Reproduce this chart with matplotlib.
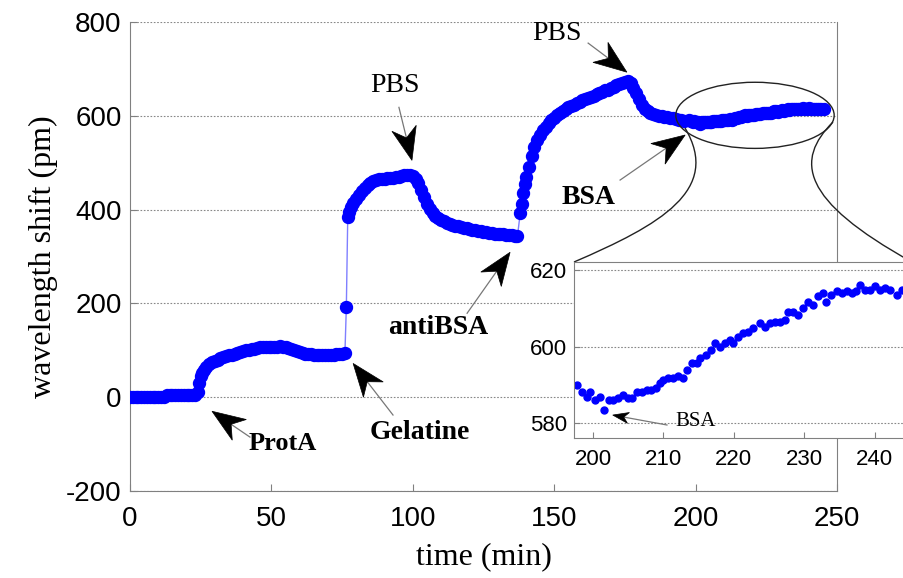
import numpy as np
import matplotlib
matplotlib.use("Agg")
import matplotlib.pyplot as plt
from matplotlib.patches import Polygon, Ellipse, PathPatch
from matplotlib.lines import Line2D
from matplotlib.path import Path

plt.rcParams["axes.unicode_minus"] = False

# ---- data ----
# baseline, ProtA binding
time_a = [0, 1, 2, 3, 4, 5, 6, 7, 8, 9, 10, 11, 12,
          13, 14, 15, 16, 17, 18, 19, 20, 21, 22, 23,
          24, 24.5, 25, 25.5,
          26, 27, 28, 29, 30, 31, 32, 33, 34, 35,
          36, 37, 38, 39, 40, 41, 42, 43, 44, 45,
          46, 47, 48, 49, 50, 51, 52, 53, 54, 55,
          56, 57, 58, 59, 60, 61, 62, 63, 64, 65,
          66, 67, 68, 69, 70, 71, 72, 73, 74, 75, 76, 76.5]
shift_a = [0, 0, 1, 0, 0, 0, 1, 0, 0, 0, 0, 1, 0,
           4, 4, 5, 4, 4, 5, 4, 4, 5, 4, 5,
           12, 30, 45, 52,
           58, 65, 70, 74, 78, 80, 83, 85, 88, 90,
           91, 93, 95, 96, 98, 100, 101, 102, 103, 105,
           106, 107, 107, 106, 106, 107, 108, 109, 108, 106,
           104, 102, 100, 98, 96, 95, 93, 92, 92, 91,
           90, 90, 90, 91, 91, 90, 91, 92, 92, 93, 94, 192]

# gelatine, PBS, antiBSA
time_b = [77, 77.5,
          78, 79, 80, 81, 82, 83, 84, 85, 86, 87,
          88, 89, 90, 91, 92, 93, 94, 95, 96, 97,
          98, 99, 100, 101, 102, 103, 104, 105, 106, 107,
          108, 109, 110, 111, 112, 113, 114, 115, 116, 117,
          118, 119, 120, 121, 122, 123, 124, 125, 126, 127,
          128, 129, 130, 131, 132, 133, 134, 135, 136, 137]
shift_b = [385, 395,
           405, 415, 423, 431, 440, 446, 452, 457, 461, 463,
           465, 466, 466, 467, 468, 468, 469, 470, 471, 473,
           474, 474, 472, 466, 456, 442, 426, 412, 401, 393,
           387, 382, 378, 375, 372, 370, 368, 366, 364, 362,
           361, 360, 359, 357, 356, 355, 354, 353, 352, 351,
           350, 349, 348, 347, 347, 346, 345, 345, 344, 343]

# antiBSA binding, PBS, BSA
time_c = [138, 138.5, 139, 139.5,
          140, 141, 142, 143, 144, 145, 146, 147, 148, 149,
          150, 151, 152, 153, 154, 155, 156, 157, 158, 159,
          160, 161, 162, 163, 164, 165, 166, 167, 168, 169,
          170, 171, 172, 173, 174, 175, 176, 177, 178, 179,
          180, 181, 182, 183, 184, 185, 186, 187, 188, 189,
          190, 191, 192, 193, 194, 195, 196]
shift_c = [393, 412, 435, 455,
           470, 491, 515, 533, 548, 559, 569, 577, 584, 591,
           596, 601, 606, 610, 614, 618, 621, 624, 627, 630,
           633, 636, 638, 641, 643, 646, 648, 651, 654, 656,
           659, 662, 665, 667, 670, 672, 674, 670, 660, 648,
           635, 623, 615, 610, 606, 603, 601, 600, 599, 598,
           597, 596, 595, 593, 591, 590, 589]

# BSA region (shown in the inset)
time_z = [197.7, 198.4, 199.1, 199.6, 200.3, 201.0, 201.5, 202.2, 202.9, 203.6,
          204.3, 205.0, 205.5, 206.2, 206.9, 207.6, 208.3, 209.0, 209.5, 210.0,
          210.7, 211.4, 212.1, 212.8, 213.3, 214.0, 214.7, 215.2, 216.1, 216.8,
          217.3, 218.0, 218.7, 219.4, 219.9, 220.6, 221.3, 222.0, 222.7, 223.7,
          224.4, 225.1, 225.8, 226.5, 227.2, 227.7, 228.4, 229.1, 229.8, 230.5,
          231.2, 231.9, 232.6, 233.1, 233.8, 234.6, 235.3, 236.0, 236.7, 237.4,
          237.9, 238.6, 239.3, 240.0, 240.7, 241.4, 242.1, 243.1, 243.8, 244.5,
          245.3]
shift_z = [590.1, 588.3, 587.0, 588.1, 586.1, 587.0, 583.4, 586.1, 586.1, 586.6,
           587.5, 586.6, 586.6, 588.3, 588.3, 588.8, 588.8, 589.2, 590.5, 591.4,
           591.8, 591.8, 592.4, 591.8, 594.0, 595.7, 595.7, 597.0, 597.9, 599.2,
           601.0, 600.1, 601.0, 601.8, 601.0, 602.7, 603.6, 604.0, 604.9, 606.2,
           605.3, 606.2, 606.6, 606.6, 607.1, 609.2, 609.2, 608.4, 610.1, 611.8,
           611.0, 613.2, 614.0, 611.8, 613.6, 614.5, 614.0, 614.5, 614.0, 614.5,
           616.2, 614.9, 614.9, 615.8, 614.9, 615.3, 614.9, 613.6, 614.9, 614.5,
           615.0]

t_all = time_a + time_b + time_c + time_z
s_all = shift_a + shift_b + shift_c + shift_z

blue = "#0000ff"
sans = "Liberation Sans"
serif = "Liberation Serif"

fig = plt.figure(figsize=(9.04, 5.78), dpi=100)
ax = fig.add_axes([130 / 904, 87 / 578, 707 / 904, 469 / 578])

ax.plot(t_all, s_all, "-", color="#7f7fff", lw=1.0, zorder=2)
ax.plot(t_all, s_all, "o", color=blue, ms=8.6, mec=blue, zorder=3)

ax.set_xlim(0, 250)
ax.set_ylim(-200, 800)
ax.set_xticks([0, 50, 100, 150, 200, 250])
ax.set_yticks([-200, 0, 200, 400, 600, 800])
ax.yaxis.grid(True, linestyle=(0, (1.5, 1.5)), color="#888888", lw=0.8)
ax.set_axisbelow(True)
for side in ["left", "bottom", "right"]:
    ax.spines[side].set_color("#808080")
ax.spines["top"].set_visible(False)
ax.tick_params(direction="in", length=5, color="#808080", labelsize=20, pad=6)
ax.tick_params(axis="x", pad=11)
for lab in ax.get_xticklabels() + ax.get_yticklabels():
    lab.set_fontfamily(sans)
ax.set_xlabel("time (min)", fontfamily=serif, fontsize=23, labelpad=7)
ax.set_ylabel("wavelength shift (pm)", fontfamily=serif, fontsize=23, labelpad=6)


def px(x, y):
    # figure pixel (from top-left) -> figure fraction
    return (x / 904, 1 - y / 578)


def dart(a, tail, tip, L=33, W=25):
    # thin gray shaft + black notched head, drawn in display space
    tr = a.transData
    p0 = tr.transform(tail)
    p1 = tr.transform(tip)
    d = p1 - p0
    u = d / np.hypot(*d)
    n = np.array([-u[1], u[0]])
    notch = p1 - u * 0.7 * L
    head = [p1, p1 - u * L + n * W / 2, notch, p1 - u * L - n * W / 2]
    inv = fig.transFigure.inverted()
    q = inv.transform(np.array([p0, notch]))
    fig.add_artist(Line2D(q[:, 0], q[:, 1], color="#777777", lw=0.9,
                          transform=fig.transFigure, zorder=5))
    fig.add_artist(Polygon(inv.transform(np.array(head)), closed=True,
                           fc="black", ec="black", lw=0.5,
                           transform=fig.transFigure, zorder=6))


# labels on the main plot
ax.text(54.1, -98, "ProtA", fontfamily=serif, fontweight="bold", fontsize=19,
        ha="center", va="center")
ax.text(102.5, -75, "Gelatine", fontfamily=serif, fontweight="bold", fontsize=20,
        ha="center", va="center")
ax.text(93.7, 665, "PBS", fontfamily=serif, fontsize=20, ha="center", va="center")
ax.text(108.9, 149, "antiBSA", fontfamily=serif, fontweight="bold", fontsize=20,
        ha="center", va="center")
ax.text(151, 776, "PBS", fontfamily=serif, fontsize=20, ha="center", va="center",
        clip_on=False)
ax.text(162, 426, "BSA", fontfamily=serif, fontweight="bold", fontsize=20,
        ha="center", va="center")

# zoom ellipse
ax.add_patch(Ellipse((221, 601), 56, 141, fill=False, ec="#222222", lw=1.0, zorder=4))

# connector curves (figure pixels)
for pts in ([(574, 262), (660, 225), (722, 190), (685, 128)],
            [(833, 122), (795, 160), (800, 200), (912, 262)]):
    verts = [px(*p) for p in pts]
    path = Path(verts, [Path.MOVETO, Path.CURVE4, Path.CURVE4, Path.CURVE4])
    fig.add_artist(PathPatch(path, fill=False, ec="#222222", lw=1.0,
                             transform=fig.transFigure, zorder=1))

# inset
axi = fig.add_axes([574 / 904, 140 / 578, 336 / 904, 176 / 578], zorder=3)
axi.plot(time_z, shift_z, "o", color=blue, ms=5, mec=blue)
axi.set_xlim(197.3, 245)
axi.set_ylim(576.2, 622.2)
axi.set_xticks([200, 210, 220, 230, 240])
axi.set_yticks([580, 600, 620])
axi.yaxis.grid(True, linestyle=(0, (1.5, 1.5)), color="#888888", lw=0.8)
axi.set_axisbelow(True)
for side in axi.spines:
    axi.spines[side].set_color("#808080")
axi.tick_params(direction="in", length=4, color="#808080", labelsize=16, pad=5)
axi.tick_params(axis="x", pad=8)
for lab in axi.get_xticklabels() + axi.get_yticklabels():
    lab.set_fontfamily(sans)
axi.text(214.6, 580.4, "BSA", fontfamily=serif, fontsize=15, ha="center", va="center")

# arrows
dart(ax, (42.4, -85), (29.0, -30))
dart(ax, (93.0, -38), (78.9, 72))
dart(ax, (95.1, 618), (99.7, 505))
dart(ax, (119.2, 179), (134.4, 309))
dart(ax, (162.0, 755), (175.7, 693))
dart(ax, (173.3, 463), (196.3, 559))
dart(axi, (210.5, 579.6), (202.8, 582.2), L=16, W=11)

fig.savefig("out.png", dpi=100)
